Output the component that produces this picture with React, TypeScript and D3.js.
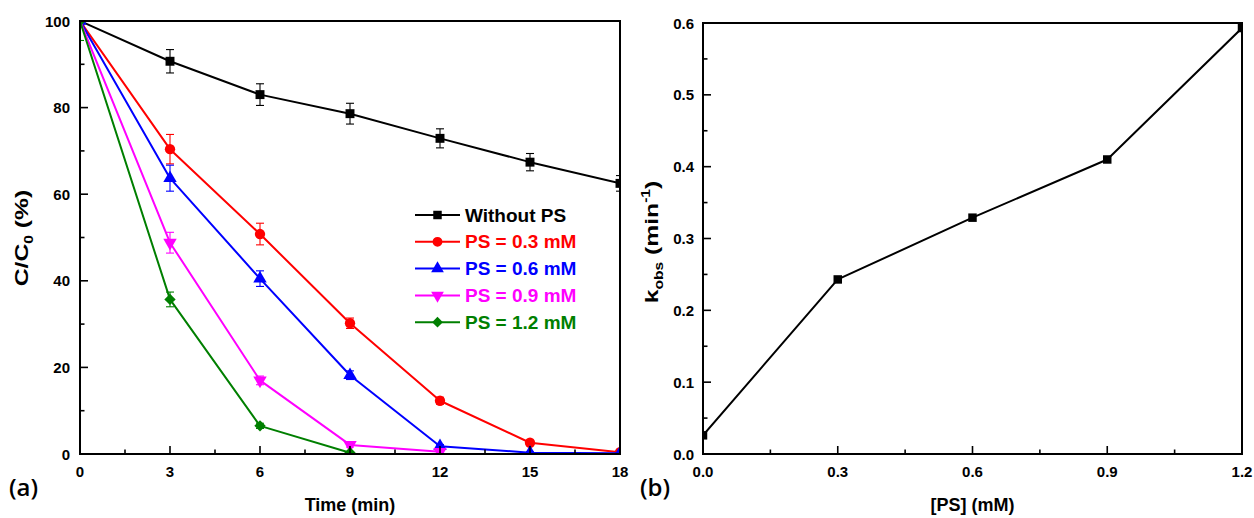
import React from 'react';
import * as d3 from 'd3';

// Panel (a): degradation over time for each persulfate dose
const times = [0, 3, 6, 9, 12, 15, 18];
const seriesNames = ['Without PS', 'PS = 0.3 mM', 'PS = 0.6 mM', 'PS = 0.9 mM', 'PS = 1.2 mM'];
const seriesColors = ['#000000', '#ff0000', '#0000ff', '#ff00ff', '#007f00'];
const seriesSymbols = ['square', 'circle', 'triangleUp', 'triangleDown', 'diamond'];

const withoutPS = [100, 90.7, 83.0, 78.6, 72.9, 67.4, 62.5];
const withoutPSErr = [0, 2.7, 2.5, 2.4, 2.2, 2.0, 1.8];
const ps03 = [100, 70.4, 50.8, 30.2, 12.3, 2.6, 0.4];
const ps03Err = [0, 3.4, 2.5, 1.2, 0.8, 0.5, 0.3];
const ps06 = [100, 63.7, 40.5, 18.2, 1.8, 0.3, 0.2];
const ps06Err = [0, 3.0, 1.8, 1.0, 0.4, 0.2, 0.1];
const ps09 = [100, 48.8, 17.0, 2.1, 0.5];
const ps09Err = [0, 2.4, 1.0, 0.5, 0.2];
const ps12 = [100, 35.7, 6.5, 0.3];
const ps12Err = [4.5, 1.7, 0.6, 0.2];

const seriesValues = [withoutPS, ps03, ps06, ps09, ps12];
const seriesErrors = [withoutPSErr, ps03Err, ps06Err, ps09Err, ps12Err];

const timeTicks = [0, 3, 6, 9, 12, 15, 18];
const percentTicks = [0, 20, 40, 60, 80, 100];

// Panel (b): observed rate constant vs persulfate dose
const psDose = [0, 0.3, 0.6, 0.9, 1.2];
const kobs = [0.026, 0.243, 0.329, 0.41, 0.593];
const doseTicks = [0, 0.3, 0.6, 0.9, 1.2];
const kTicks = [0, 0.1, 0.2, 0.3, 0.4, 0.5, 0.6];

const FONT = '"Liberation Sans", Arial, Helvetica, sans-serif';

function symbolPath(kind: string, size: number): string {
  const map: Record<string, d3.SymbolType> = {
    square: d3.symbolSquare,
    circle: d3.symbolCircle,
    triangleUp: d3.symbolTriangle,
    triangleDown: d3.symbolTriangle,
    diamond: d3.symbolSquare,
  };
  return d3.symbol().type(map[kind]).size(size)() || '';
}

function Marker({ kind, x, y, color, size }: { kind: string; x: number; y: number; color: string; size: number }) {
  let extra = '';
  if (kind === 'triangleDown') extra = ' rotate(180)';
  if (kind === 'diamond') extra = ' rotate(45)';
  return <path d={symbolPath(kind, size)} transform={`translate(${x},${y})${extra}`} fill={color} stroke="none" />;
}

const symbolSizes: Record<string, number> = {
  square: 80,
  circle: 84,
  triangleUp: 78,
  triangleDown: 78,
  diamond: 64,
};

function Frame({ x0, x1, y0, y1 }: { x0: number; x1: number; y0: number; y1: number }) {
  return <rect x={x0} y={y0} width={x1 - x0} height={y1 - y0} fill="none" stroke="#000" strokeWidth={2} />;
}

export default function App() {
  // Panel (a) geometry
  const a = { left: 80, right: 620, top: 21, bottom: 454 };
  const xA = d3.scaleLinear().domain([0, 18]).range([a.left, a.right]);
  const yA = d3.scaleLinear().domain([0, 100]).range([a.bottom, a.top]);

  // Panel (b) geometry
  const b = { left: 703, right: 1242, top: 23, bottom: 454 };
  const xB = d3.scaleLinear().domain([0, 1.2]).range([b.left, b.right]);
  const yB = d3.scaleLinear().domain([0, 0.6]).range([b.bottom, b.top]);

  const lineGen = (xs: d3.ScaleLinear<number, number>, ys: d3.ScaleLinear<number, number>, xv: number[]) =>
    d3
      .line<number>()
      .x((_, i) => xs(xv[i]))
      .y((d) => ys(d));

  const majorLen = 8;
  const minorLen = 4.5;

  const minorA_x = d3.range(1.5, 18, 3);
  const minorA_y = d3.range(10, 100, 20);
  const minorB_x = d3.range(0.15, 1.2, 0.3);
  const minorB_y = d3.range(0.05, 0.6, 0.1);

  const legendX = 415;
  const legendY0 = 215;
  const legendStep = 26.8;

  return (
    <svg
      width={1254}
      height={518}
      style={{ position: 'absolute', left: 0, top: 0, background: '#fff' }}
      fontFamily={FONT}
    >
      <defs>
        <clipPath id="clipA">
          <rect x={a.left} y={a.top} width={a.right - a.left} height={a.bottom - a.top} />
        </clipPath>
        <clipPath id="clipB">
          <rect x={b.left} y={b.top} width={b.right - b.left} height={b.bottom - b.top} />
        </clipPath>
      </defs>
      <rect x={0} y={0} width={1254} height={518} fill="#fff" />

      {/* ---------- Panel (a) ---------- */}
      <g clipPath="url(#clipA)">
        {seriesValues.map((vals, si) => (
          <g key={si}>
            <path
              d={lineGen(xA, yA, times)(vals) || ''}
              fill="none"
              stroke={seriesColors[si]}
              strokeWidth={2}
              strokeLinejoin="round"
            />
            {vals.map((v, i) => {
              const e = seriesErrors[si][i];
              if (!e) return null;
              const cx = xA(times[i]);
              return (
                <g key={i} stroke={seriesColors[si]} strokeWidth={1.1}>
                  <line x1={cx} x2={cx} y1={yA(v + e)} y2={yA(v - e)} />
                  <line x1={cx - 4} x2={cx + 4} y1={yA(v + e)} y2={yA(v + e)} />
                  <line x1={cx - 4} x2={cx + 4} y1={yA(v - e)} y2={yA(v - e)} />
                </g>
              );
            })}
            {vals.map((v, i) => (
              <Marker
                key={'m' + i}
                kind={seriesSymbols[si]}
                x={xA(times[i])}
                y={yA(v)}
                color={seriesColors[si]}
                size={symbolSizes[seriesSymbols[si]]}
              />
            ))}
          </g>
        ))}
      </g>
      <Frame x0={a.left} x1={a.right} y0={a.top} y1={a.bottom} />

      {/* ticks (inward) */}
      <g stroke="#000" strokeWidth={1.6}>
        {timeTicks.map((t) => (
          <line key={'xa' + t} x1={xA(t)} x2={xA(t)} y1={a.bottom} y2={a.bottom - majorLen} />
        ))}
        {minorA_x.map((t) => (
          <line key={'xam' + t} x1={xA(t)} x2={xA(t)} y1={a.bottom} y2={a.bottom - minorLen} />
        ))}
        {percentTicks.map((t) => (
          <line key={'ya' + t} x1={a.left} x2={a.left + majorLen} y1={yA(t)} y2={yA(t)} />
        ))}
        {minorA_y.map((t) => (
          <line key={'yam' + t} x1={a.left} x2={a.left + minorLen} y1={yA(t)} y2={yA(t)} />
        ))}
      </g>
      <g fontSize={15} fontWeight="bold" fill="#000">
        {timeTicks.map((t) => (
          <text key={'xl' + t} x={xA(t)} y={477} textAnchor="middle">
            {t}
          </text>
        ))}
        {percentTicks.map((t) => (
          <text key={'yl' + t} x={a.left - 10} y={yA(t) + 5.5} textAnchor="end">
            {t}
          </text>
        ))}
      </g>
      <text x={(a.left + a.right) / 2} y={511} textAnchor="middle" fontSize={18} fontWeight="bold">
        Time (min)
      </text>
      <g transform="translate(28,238) rotate(-90) scale(1.3,1)">
        <text x={0} y={0} textAnchor="middle" fontSize={19} fontWeight="bold">
          C/C
          <tspan fontSize={12} dy={5}>
            0
          </tspan>
          <tspan dy={-5}> (%)</tspan>
        </text>
      </g>
      <text x={9} y={496} fontSize={24} fontFamily='"Open Sans", sans-serif' fontWeight={600} fill="#000">
        (a)
      </text>

      {/* legend */}
      <g>
        {seriesNames.map((name, si) => {
          const ly = legendY0 + si * legendStep;
          return (
            <g key={name}>
              <line x1={legendX} x2={legendX + 45} y1={ly} y2={ly} stroke={seriesColors[si]} strokeWidth={2} />
              <Marker
                kind={seriesSymbols[si]}
                x={legendX + 22.5}
                y={ly}
                color={seriesColors[si]}
                size={symbolSizes[seriesSymbols[si]] * 0.9}
              />
              <text x={legendX + 50} y={ly + 6.5} fontSize={19} fontWeight="bold" fill={seriesColors[si]}>
                {name}
              </text>
            </g>
          );
        })}
      </g>

      {/* ---------- Panel (b) ---------- */}
      <g clipPath="url(#clipB)">
        <path
          d={lineGen(xB, yB, psDose)(kobs) || ''}
          fill="none"
          stroke="#000"
          strokeWidth={2}
          strokeLinejoin="round"
        />
        {kobs.map((v, i) => (
          <Marker key={i} kind="square" x={xB(psDose[i])} y={yB(v)} color="#000" size={72} />
        ))}
      </g>
      <Frame x0={b.left} x1={b.right} y0={b.top} y1={b.bottom} />
      <g stroke="#000" strokeWidth={1.6}>
        {doseTicks.map((t) => (
          <line key={'xb' + t} x1={xB(t)} x2={xB(t)} y1={b.bottom} y2={b.bottom - majorLen} />
        ))}
        {minorB_x.map((t) => (
          <line key={'xbm' + t} x1={xB(t)} x2={xB(t)} y1={b.bottom} y2={b.bottom - minorLen} />
        ))}
        {kTicks.map((t) => (
          <line key={'yb' + t} x1={b.left} x2={b.left + majorLen} y1={yB(t)} y2={yB(t)} />
        ))}
        {minorB_y.map((t) => (
          <line key={'ybm' + t} x1={b.left} x2={b.left + minorLen} y1={yB(t)} y2={yB(t)} />
        ))}
      </g>
      <g fontSize={15} fontWeight="bold" fill="#000">
        {doseTicks.map((t) => (
          <text key={'xbl' + t} x={xB(t)} y={477} textAnchor="middle">
            {d3.format('.1f')(t)}
          </text>
        ))}
        {kTicks.map((t) => (
          <text key={'ybl' + t} x={b.left - 9} y={yB(t) + 5.5} textAnchor="end">
            {d3.format('.1f')(t)}
          </text>
        ))}
      </g>
      <text x={(b.left + b.right) / 2} y={511} textAnchor="middle" fontSize={18} fontWeight="bold">
        [PS] (mM)
      </text>
      <g transform="translate(658,242) rotate(-90) scale(1.3,1)">
        <text x={0} y={0} textAnchor="middle" fontSize={19} fontWeight="bold">
          k
          <tspan fontSize={12} dy={5}>
            obs
          </tspan>
          <tspan dy={-5}> (min</tspan>
          <tspan fontSize={12} dy={-8}>
            -1
          </tspan>
          <tspan dy={8}>)</tspan>
        </text>
      </g>
      <text x={640} y={496} fontSize={24} fontFamily='"Open Sans", sans-serif' fontWeight={600} fill="#000">
        (b)
      </text>
    </svg>
  );
}
